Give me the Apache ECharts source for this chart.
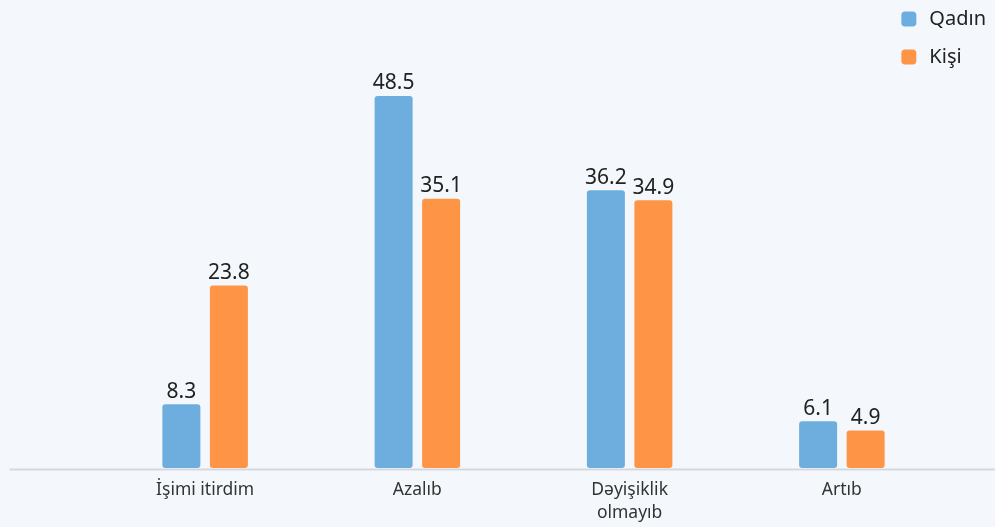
<!DOCTYPE html>
<html>
<head>
<meta charset="utf-8">
<script src="https://cdn.jsdelivr.net/npm/echarts@6/dist/echarts.min.js"></script>
<style>
html,body{margin:0;padding:0;background:#f4f8fc;}
#chart{width:995px;height:527px;}
</style>
</head>
<body>
<div id="chart"></div>
<script>
var categories = ['İşimi itirdim', 'Azalıb', 'Dəyişiklik\nolmayıb', 'Artıb'];
var seriesNames = ['Qadın', 'Kişi'];
var qadin = [8.3, 48.5, 36.2, 6.1];
var kisi = [23.8, 35.1, 34.9, 4.9];

var chart = echarts.init(document.getElementById('chart'));
var labelStyle = {show: true, position: 'top', distance: 2, fontSize: 21, color: '#222', fontFamily: 'Noto Sans'};
chart.setOption({
  backgroundColor: '#f4f8fc',
  textStyle: {fontFamily: 'Noto Sans'},
  legend: {
    orient: 'vertical', right: 4, top: 4,
    itemWidth: 15, itemHeight: 15, itemGap: 18,
    icon: 'roundRect',
    textStyle: {fontSize: 20, color: '#222', fontFamily: 'Noto Sans', padding: [0, 0, 0, 8]},
    data: seriesNames
  },
  grid: {left: 99, right: 47, top: 84.5, bottom: 59},
  xAxis: {
    type: 'category', data: categories,
    axisLine: {show: false}, axisTick: {show: false},
    axisLabel: {fontSize: 17.5, color: '#333', margin: 11, lineHeight: 23, fontFamily: 'Noto Sans'}
  },
  yAxis: {type: 'value', min: 0, max: 50, show: false, splitLine: {show: false}},
  graphic: [{
    type: 'line', left: 7, top: 467, silent: true,
    shape: {x1: 0, y1: 0, x2: 988, y2: 0},
    style: {stroke: '#d6d9df', lineWidth: 2}
  }],
  series: [
    {name: seriesNames[0], type: 'bar', data: qadin, barWidth: 38, barGap: '25%',
     itemStyle: {color: '#6eaede', borderRadius: 3}, label: labelStyle},
    {name: seriesNames[1], type: 'bar', data: kisi, barWidth: 38, barGap: '25%',
     itemStyle: {color: '#fe9446', borderRadius: 3}, label: labelStyle}
  ]
});
</script>
</body>
</html>
